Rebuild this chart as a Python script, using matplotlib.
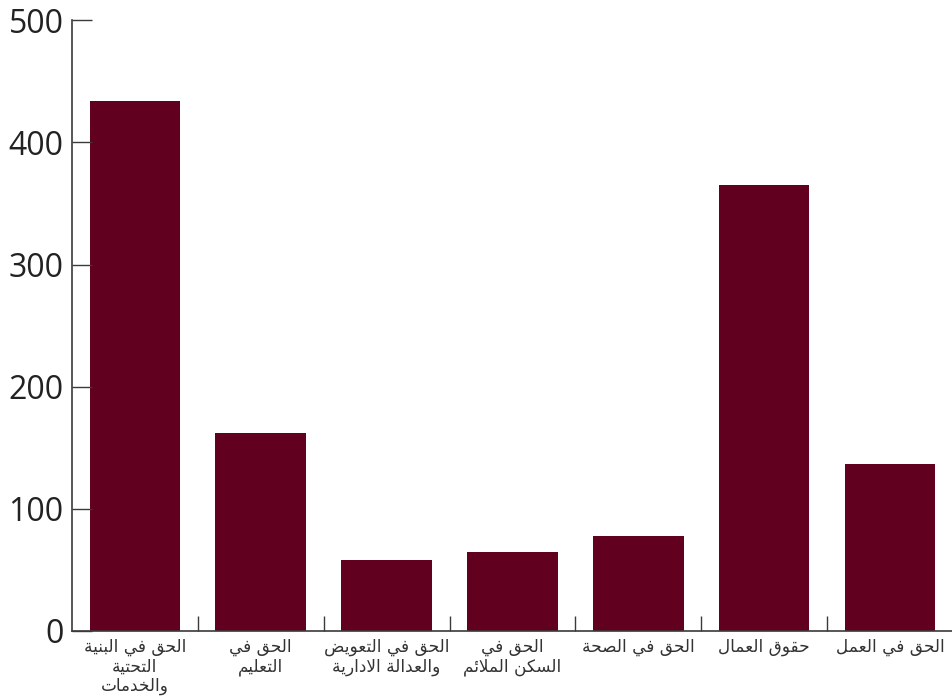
import numpy as np
import matplotlib
matplotlib.use("Agg")
import matplotlib.pyplot as plt

# categories (one entry per bar, "\n" = line break as in the picture)
categories = [
    "الحق في البنية\nالتحتية\nوالخدمات",
    "الحق في\nالتعليم",
    "الحق في التعويض\nوالعدالة الادارية",
    "الحق في\nالسكن الملائم",
    "الحق في الصحة",
    "حقوق العمال",
    "الحق في العمل",
]
values = [434, 162, 58, 65, 78, 365, 137]
yticks = [0, 100, 200, 300, 400, 500]

BAR_COLOR = "#620020"
AXIS_COLOR = "#3a3a3a"

# --- minimal arabic shaping (matplotlib has no text shaping) ---
# forms: isolated, final, initial, medial
_forms = {
    "\u0621": (0xFE80, 0xFE80, None, None),
    "\u0623": (0xFE83, 0xFE84, None, None),
    "\u0626": (0xFE89, 0xFE8A, 0xFE8B, 0xFE8C),
    "\u0627": (0xFE8D, 0xFE8E, None, None),
    "\u0628": (0xFE8F, 0xFE90, 0xFE91, 0xFE92),
    "\u0629": (0xFE93, 0xFE94, None, None),
    "\u062A": (0xFE95, 0xFE96, 0xFE97, 0xFE98),
    "\u062B": (0xFE99, 0xFE9A, 0xFE9B, 0xFE9C),
    "\u062C": (0xFE9D, 0xFE9E, 0xFE9F, 0xFEA0),
    "\u062D": (0xFEA1, 0xFEA2, 0xFEA3, 0xFEA4),
    "\u062E": (0xFEA5, 0xFEA6, 0xFEA7, 0xFEA8),
    "\u062F": (0xFEA9, 0xFEAA, None, None),
    "\u0630": (0xFEAB, 0xFEAC, None, None),
    "\u0631": (0xFEAD, 0xFEAE, None, None),
    "\u0632": (0xFEAF, 0xFEB0, None, None),
    "\u0633": (0xFEB1, 0xFEB2, 0xFEB3, 0xFEB4),
    "\u0634": (0xFEB5, 0xFEB6, 0xFEB7, 0xFEB8),
    "\u0635": (0xFEB9, 0xFEBA, 0xFEBB, 0xFEBC),
    "\u0636": (0xFEBD, 0xFEBE, 0xFEBF, 0xFEC0),
    "\u0637": (0xFEC1, 0xFEC2, 0xFEC3, 0xFEC4),
    "\u0638": (0xFEC5, 0xFEC6, 0xFEC7, 0xFEC8),
    "\u0639": (0xFEC9, 0xFECA, 0xFECB, 0xFECC),
    "\u063A": (0xFECD, 0xFECE, 0xFECF, 0xFED0),
    "\u0641": (0xFED1, 0xFED2, 0xFED3, 0xFED4),
    "\u0642": (0xFED5, 0xFED6, 0xFED7, 0xFED8),
    "\u0643": (0xFED9, 0xFEDA, 0xFEDB, 0xFEDC),
    "\u0644": (0xFEDD, 0xFEDE, 0xFEDF, 0xFEE0),
    "\u0645": (0xFEE1, 0xFEE2, 0xFEE3, 0xFEE4),
    "\u0646": (0xFEE5, 0xFEE6, 0xFEE7, 0xFEE8),
    "\u0647": (0xFEE9, 0xFEEA, 0xFEEB, 0xFEEC),
    "\u0648": (0xFEED, 0xFEEE, None, None),
    "\u0649": (0xFEEF, 0xFEF0, None, None),
    "\u064A": (0xFEF1, 0xFEF2, 0xFEF3, 0xFEF4),
    "LA": (0xFEFB, 0xFEFC, None, None),
}


def shape_line(s):
    """join letters into presentation forms, then reverse for LTR drawing"""
    chars = []
    i = 0
    while i < len(s):
        if s[i] == "\u0644" and i + 1 < len(s) and s[i + 1] == "\u0627":
            chars.append("LA")
            i += 2
        else:
            chars.append(s[i])
            i += 1
    out = []
    for k, c in enumerate(chars):
        if c not in _forms:
            out.append(c)
            continue
        f = _forms[c]
        prev = chars[k - 1] if k > 0 else None
        nxt = chars[k + 1] if k + 1 < len(chars) else None
        join_prev = prev in _forms and _forms[prev][2] is not None
        join_next = f[2] is not None and nxt in _forms
        if join_prev and join_next:
            code = f[3]
        elif join_prev:
            code = f[1]
        elif join_next:
            code = f[2]
        else:
            code = f[0]
        out.append(chr(code))
    return "".join(reversed(out))


def shape(s):
    return "\n".join(shape_line(line) for line in s.split("\n"))


fig = plt.figure(figsize=(9.52, 7.0), dpi=100)
ax = fig.add_axes([0.0756, 0.0986, 0.9254, 0.8724])

x = np.arange(len(values))
ax.bar(x, values, width=0.72, color=BAR_COLOR)

ax.set_xlim(-0.5, len(values) - 0.5)
ax.set_ylim(0, 500)

ax.set_yticks(yticks)
ax.set_yticklabels([str(t) for t in yticks], fontsize=23, family="Open Sans",
                   color="#222222")
ax.tick_params(axis="y", direction="in", length=14.5, width=1.0,
               color=AXIS_COLOR, pad=6)

ax.set_xticks(x)
ax.set_xticklabels([shape(c) for c in categories], fontsize=12.2,
                   family="DejaVu Sans", color="#333333", linespacing=1.1)
ax.tick_params(axis="x", which="major", length=0, pad=5)
ax.set_xticks(np.arange(0.5, len(values) - 1, 1.0), minor=True)
ax.tick_params(axis="x", which="minor", direction="in", length=11,
               width=1.0, color=AXIS_COLOR)

for side in ("top", "right"):
    ax.spines[side].set_visible(False)
for side in ("left", "bottom"):
    ax.spines[side].set_color(AXIS_COLOR)
    ax.spines[side].set_linewidth(1.2)

fig.savefig("out.png", dpi=100)
